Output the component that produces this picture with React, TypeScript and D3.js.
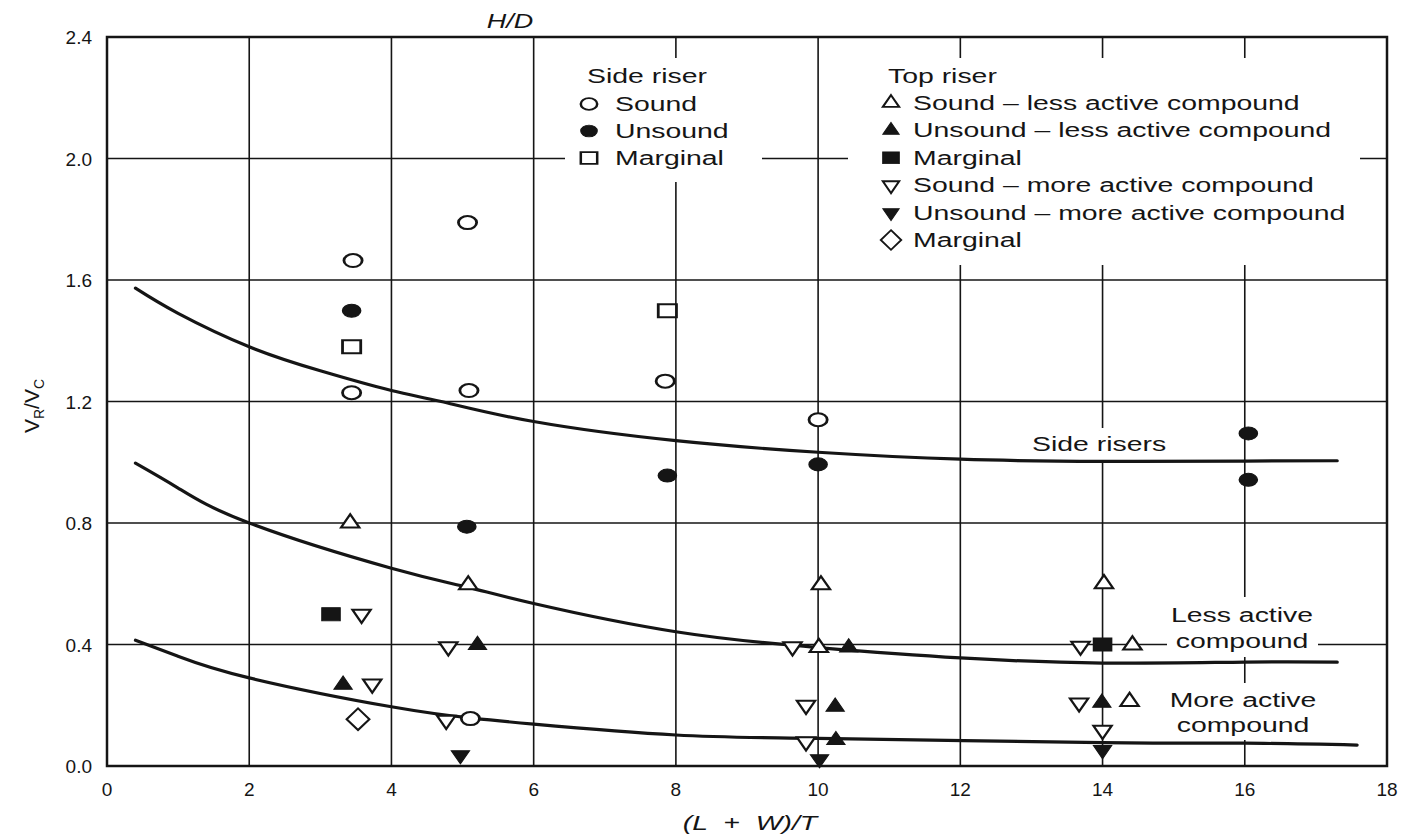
import React from 'react';
import * as d3 from 'd3';

// ---- chart values ----
const xTicks = [0, 2, 4, 6, 8, 10, 12, 14, 16, 18];
const yTicks = [0, 0.4, 0.8, 1.2, 1.6, 2.0, 2.4];

// Limit curves (L + W)/T vs VR/VC
const sideRiserCurve: [number, number][] = [
  [0.4, 1.573], [1, 1.49], [2, 1.38], [3, 1.301], [4, 1.236], [4.7, 1.2], [6, 1.134],
  [8, 1.071], [10, 1.033], [12, 1.01], [14, 1.003], [16, 1.004], [17.3, 1.005],
];
const lessActiveCurve: [number, number][] = [
  [0.4, 0.997], [1, 0.915], [2, 0.8], [4, 0.651], [5.08, 0.588], [6, 0.535],
  [8, 0.442], [10, 0.39], [12, 0.356], [14, 0.339], [16, 0.342], [17.3, 0.342],
];
const moreActiveCurve: [number, number][] = [
  [0.4, 0.414], [1, 0.361], [2, 0.29], [4, 0.195], [5.11, 0.158], [6, 0.138],
  [8, 0.102], [10, 0.091], [14, 0.077], [16, 0.075], [17.58, 0.069],
];

// Side riser castings
const sideSound: [number, number][] = [
  [3.46, 1.664], [5.07, 1.789], [3.44, 1.229], [5.09, 1.236], [7.85, 1.267], [10.0, 1.14], [5.11, 0.156],
];
const sideUnsound: [number, number][] = [
  [3.44, 1.499], [5.06, 0.788], [7.88, 0.956], [10.0, 0.993], [16.05, 1.095], [16.05, 0.942],
];
const sideMarginal: [number, number][] = [[3.44, 1.38], [7.88, 1.499]];

// Top riser castings
const topSoundLess: [number, number][] = [
  [3.42, 0.8], [5.08, 0.596], [10.04, 0.596], [10.01, 0.39], [14.02, 0.6], [14.42, 0.398], [14.38, 0.212],
];
const topUnsoundLess: [number, number][] = [
  [3.32, 0.267], [5.21, 0.398], [10.43, 0.39], [10.24, 0.195], [13.99, 0.208], [10.25, 0.085],
];
const topMarginal: [number, number][] = [[3.15, 0.5], [14.0, 0.4]];
const topSoundMore: [number, number][] = [
  [3.58, 0.5], [3.73, 0.27], [4.8, 0.393], [4.77, 0.151], [9.64, 0.393], [9.83, 0.2],
  [9.83, 0.08], [13.69, 0.395], [13.67, 0.208], [14.0, 0.118],
];
const topUnsoundMore: [number, number][] = [[4.97, 0.036], [10.02, 0.023], [14.0, 0.053]];
const topMarginalMore: [number, number][] = [[3.53, 0.154]];

const sideLegendTitle = 'Side riser';
const sideLegendLabels = ['Sound', 'Unsound', 'Marginal'];
const topLegendTitle = 'Top riser';
const topLegendLabels = [
  'Sound – less active compound',
  'Unsound – less active compound',
  'Marginal',
  'Sound – more active compound',
  'Unsound – more active compound',
  'Marginal',
];

// ---- drawing setup ----
const W = 1405;
const H = 837;
const FONT = '"Liberation Sans", Arial, Helvetica, sans-serif';
const INK = '#151515';
const STRETCH = 1.42;

const x = d3.scaleLinear().domain([0, 18]).range([107, 1387]);
const y = d3.scaleLinear().domain([0, 2.4]).range([766, 37]);

type Shape = 'circle' | 'square' | 'triUp' | 'triDown' | 'diamond';

const shapePath: Record<Shape, string> = {
  circle: d3.symbol(d3.symbolCircle, 133)() as string,
  square: d3.symbol(d3.symbolSquare, 169)() as string,
  triUp: d3.symbol(d3.symbolTriangle, 100)() as string,
  triDown: d3.symbol(d3.symbolTriangle, 100)() as string,
  diamond: d3.symbol(d3.symbolDiamond2, 300)() as string,
};
const shapeStretch: Record<Shape, number> = {
  circle: 1.4, square: 1.4, triUp: 1.2, triDown: 1.2, diamond: 1.05,
};

interface Series { points: [number, number][]; shape: Shape; filled: boolean; }

const sideSeries: Series[] = [
  { points: sideSound, shape: 'circle', filled: false },
  { points: sideUnsound, shape: 'circle', filled: true },
  { points: sideMarginal, shape: 'square', filled: false },
];
const topSeries: Series[] = [
  { points: topSoundLess, shape: 'triUp', filled: false },
  { points: topUnsoundLess, shape: 'triUp', filled: true },
  { points: topMarginal, shape: 'square', filled: true },
  { points: topSoundMore, shape: 'triDown', filled: false },
  { points: topUnsoundMore, shape: 'triDown', filled: true },
  { points: topMarginalMore, shape: 'diamond', filled: false },
];

function Marker({ cx, cy, shape, filled, k = 1 }: { cx: number; cy: number; shape: Shape; filled: boolean; k?: number }) {
  const rot = shape === 'triDown' ? ' rotate(180)' : '';
  return (
    <path
      d={shapePath[shape]}
      transform={`translate(${cx},${cy}) scale(${shapeStretch[shape] * k},${k})${rot}`}
      fill={filled ? INK : '#fff'}
      stroke={INK}
      strokeWidth={filled ? 1 : 2}
    />
  );
}

function Label({ px, py, text, anchor = 'start', italic = false, size = 20, stretch = STRETCH }: {
  px: number; py: number; text: string; anchor?: 'start' | 'middle' | 'end'; italic?: boolean; size?: number; stretch?: number;
}) {
  return (
    <text
      transform={`translate(${px},${py}) scale(${stretch},1)`}
      textAnchor={anchor}
      fontFamily={FONT}
      fontSize={size}
      fontStyle={italic ? 'italic' : 'normal'}
      fill={INK}
      style={{ whiteSpace: 'pre' }}
    >
      {text}
    </text>
  );
}

const line = d3.line<[number, number]>()
  .x((d) => x(d[0]))
  .y((d) => y(d[1]))
  .curve(d3.curveNatural);

// white panels behind the legends and curve labels
const knockouts = [
  { px: 565, py: 58, w: 197, h: 124 },
  { px: 848, py: 58, w: 512, h: 207 },
  { px: 1028, py: 428, w: 144, h: 32 },
  { px: 1167, py: 597, w: 151, h: 60 },
  { px: 1165, py: 683, w: 155, h: 57 },
];

export default function App() {
  const [x0, x1] = x.range();
  const [y0, y1] = y.range();
  const fmt = d3.format('.1f');

  return (
    <svg
      width={W}
      height={H}
      viewBox={`0 0 ${W} ${H}`}
      style={{ position: 'absolute', left: 0, top: 0, background: '#fff' }}
    >
      <rect x={0} y={0} width={W} height={H} fill="#fff" />

      {/* grid */}
      <g stroke={INK} strokeWidth={1.6}>
        {xTicks.slice(1, -1).map((t) => (
          <line key={`gx${t}`} x1={x(t)} x2={x(t)} y1={y0} y2={y1} />
        ))}
        {yTicks.slice(1, -1).map((t) => (
          <line key={`gy${t}`} x1={x0} x2={x1} y1={y(t)} y2={y(t)} />
        ))}
      </g>

      {knockouts.map((b, i) => (
        <rect key={`k${i}`} x={b.px} y={b.py} width={b.w} height={b.h} fill="#fff" />
      ))}

      {/* frame */}
      <rect x={x0} y={y1} width={x1 - x0} height={y0 - y1} fill="none" stroke={INK} strokeWidth={2.5} />

      {/* tick labels */}
      {yTicks.map((t) => (
        <Label key={`yl${t}`} px={92} py={y(t) + 7} text={fmt(t)} anchor="end" size={19} stretch={1} />
      ))}
      {xTicks.map((t) => (
        <Label key={`xl${t}`} px={x(t)} py={796} text={String(t)} anchor="middle" size={19} stretch={1} />
      ))}

      {/* axis titles */}
      <Label px={510} py={28} text="H/D" anchor="middle" italic stretch={1.35} />
      <Label px={750} py={830} text="(L  +  W)/T" anchor="middle" italic />
      <text
        transform="translate(39,406) rotate(-90)"
        textAnchor="middle"
        fontFamily={FONT}
        fontSize={21}
        fill={INK}
      >
        V<tspan fontSize={14} dy={5}>R</tspan>
        <tspan dy={-5}>/V</tspan>
        <tspan fontSize={14} dy={5}>C</tspan>
      </text>

      {/* limit curves */}
      <g fill="none" stroke={INK} strokeWidth={3.2} strokeLinecap="round">
        <path d={line(sideRiserCurve) as string} />
        <path d={line(lessActiveCurve) as string} />
        <path d={line(moreActiveCurve) as string} />
      </g>

      {/* curve labels */}
      <Label px={1032} py={451} text="Side risers" />
      <Label px={1242} py={622} text="Less active" anchor="middle" />
      <Label px={1242} py={648} text="compound" anchor="middle" />
      <Label px={1243} py={707} text="More active" anchor="middle" />
      <Label px={1243} py={732} text="compound" anchor="middle" />

      {/* data points */}
      {[...sideSeries, ...topSeries].map((s, i) =>
        s.points.map((p, j) => (
          <Marker key={`m${i}-${j}`} cx={x(p[0])} cy={y(p[1])} shape={s.shape} filled={s.filled} />
        ))
      )}

      {/* legends */}
      <Label px={587} py={83} text={sideLegendTitle} />
      {sideLegendLabels.map((lab, i) => (
        <g key={`sl${i}`}>
          <Marker cx={589} cy={104 + i * 27} shape={sideSeries[i].shape} filled={sideSeries[i].filled} k={0.9} />
          <Label px={615} py={111 + i * 27} text={lab} />
        </g>
      ))}
      <Label px={888} py={83} text={topLegendTitle} />
      {topLegendLabels.map((lab, i) => (
        <g key={`tl${i}`}>
          <Marker cx={891} cy={103 + i * 27.4} shape={topSeries[i].shape} filled={topSeries[i].filled} k={0.9} />
          <Label px={913} py={110 + i * 27.4} text={lab} />
        </g>
      ))}
    </svg>
  );
}
